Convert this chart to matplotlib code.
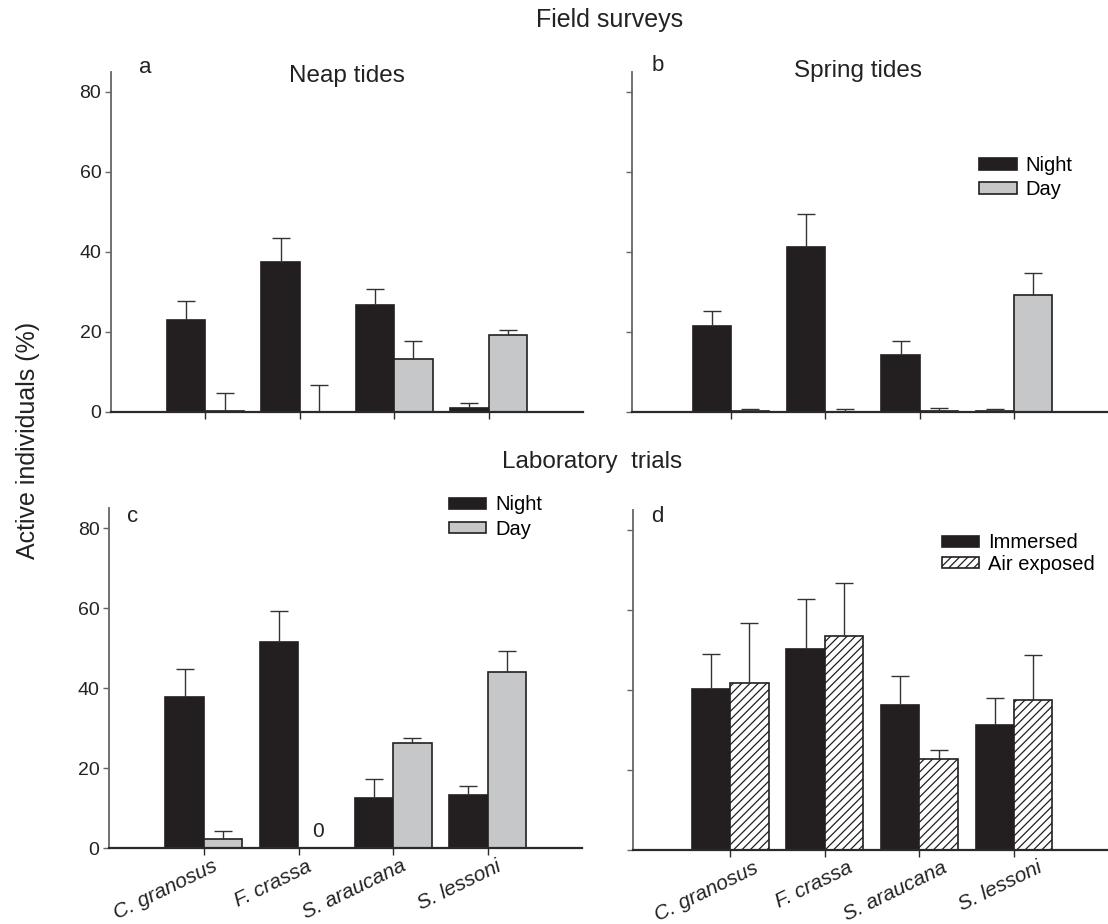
import numpy as np
import matplotlib
matplotlib.use("Agg")
import matplotlib.pyplot as plt
from matplotlib.transforms import ScaledTranslation

plt.rcParams['font.family'] = ['Liberation Sans', 'DejaVu Sans']
plt.rcParams['hatch.linewidth'] = 0.9

# ---------------- data ----------------
species = ["C. granosus", "F. crassa", "S. araucana", "S. lessoni"]
yticks = [0, 20, 40, 60, 80]

a_night = [22.9, 37.5, 26.7, 0.9]
a_night_err = [4.8, 6.0, 4.1, 1.2]
a_day = [0.2, 0.0, 13.2, 19.2]
a_day_err = [4.6, 6.7, 4.5, 1.2]

b_night = [21.4, 41.2, 14.3, 0.3]
b_night_err = [3.9, 8.2, 3.5, 0.4]
b_day = [0.3, 0.0, 0.3, 29.3]
b_day_err = [0.45, 0.8, 0.6, 5.4]

c_night = [37.9, 51.5, 12.6, 13.3]
c_night_err = [6.9, 7.7, 4.7, 2.3]
c_day = [2.4, 0.0, 26.2, 44.1]
c_day_err = [1.8, 0.0, 1.4, 5.3]

d_imm = [40.2, 50.2, 36.2, 31.3]
d_imm_err = [8.8, 12.6, 7.3, 6.8]
d_air = [41.7, 53.5, 22.7, 37.6]
d_air_err = [15.1, 13.3, 2.4, 11.2]

# ---------------- style ----------------
W, H = 1108, 924
DARK = '#231f20'
GREY = '#c6c7c9'
ERRC = '#333333'
BW = 0.406

fig = plt.figure(figsize=(W / 100, H / 100), dpi=100)


def rect(left, top, right, bottom):
    return [left / W, 1 - bottom / H, (right - left) / W, (bottom - top) / H]


def ftext(x, y, s, **kw):
    return fig.text(x / W, 1 - y / H, s, **kw)


def draw_panel(ax, v1, e1, v2, e2, style2, xlim):
    x = np.arange(len(species))
    b1 = ax.bar(x - BW / 2, v1, BW, color=DARK, edgecolor=DARK, linewidth=1.2, zorder=2)
    if style2 == 'grey':
        b2 = ax.bar(x + BW / 2, v2, BW, color=GREY, edgecolor=DARK, linewidth=1.2, zorder=2)
    else:
        b2 = ax.bar(x + BW / 2, v2, BW, color='white', edgecolor=DARK, linewidth=1.2,
                    hatch='////', zorder=2)
    for xs, vals, errs in ((x - BW / 2, v1, e1), (x + BW / 2, v2, e2)):
        vals = np.asarray(vals, float)
        errs = np.asarray(errs, float)
        m = errs > 0
        if m.any():
            eb = ax.errorbar(xs[m], vals[m], yerr=[np.zeros(m.sum()), errs[m]],
                             fmt='none', ecolor=ERRC, elinewidth=1.0, capsize=6.5,
                             capthick=1.0, zorder=3)
            caps = eb[1]
            if len(caps) == 2:
                caps[0].set_visible(False)
    ax.set_xlim(*xlim)
    ax.set_ylim(0, 85)
    ax.set_yticks(yticks)
    ax.set_xticks(x)
    for s in ('top', 'right'):
        ax.spines[s].set_visible(False)
    ax.spines['left'].set_color('#666666')
    ax.spines['left'].set_linewidth(1.3)
    ax.spines['bottom'].set_color('#2a2a2a')
    ax.spines['bottom'].set_linewidth(1.6)
    ax.tick_params(axis='y', direction='out', length=4, width=1.0, color='#666666',
                   labelsize=14, pad=3, labelcolor='#222222')
    ax.tick_params(axis='x', direction='out', length=5, width=1.0, color='#2a2a2a',
                   labelsize=15, pad=1, labelcolor='#222222')
    return b1, b2


ax_a = fig.add_axes(rect(111, 72, 583, 411.7))
ax_b = fig.add_axes(rect(632, 72, 1108.5, 411.7))
ax_c = fig.add_axes(rect(109.3, 508, 582.3, 848.3))
ax_d = fig.add_axes(rect(632.7, 510, 1108.5, 850))

draw_panel(ax_a, a_night, a_night_err, a_day, a_day_err, 'grey', (-1.0, 4.0))
bb1, bb2 = draw_panel(ax_b, b_night, b_night_err, b_day, b_day_err, 'grey', (-1.05, 4.0))
cb1, cb2 = draw_panel(ax_c, c_night, c_night_err, c_day, c_day_err, 'grey', (-1.0, 4.0))
db1, db2 = draw_panel(ax_d, d_imm, d_imm_err, d_air, d_air_err, 'hatch', (-1.03, 4.0))

for ax in (ax_a, ax_b):
    ax.set_xticklabels([])
for ax in (ax_b, ax_d):
    ax.set_yticklabels([])

for ax, dx in ((ax_c, 0.16), (ax_d, 0.31)):
    ax.set_xticks(np.arange(len(species)), labels=species)
    for lab in ax.get_xticklabels():
        lab.set_rotation(26)
        lab.set_ha('right')
        lab.set_style('italic')
        lab.set_transform(lab.get_transform() + ScaledTranslation(dx, 0, fig.dpi_scale_trans))

# zero annotation for F. crassa (day) in panel c
ax_c.text(1 + BW / 2, 4.1, "0", ha='center', va='center', fontsize=15, color='#222222')

# legends
leg_kw = dict(frameon=False, fontsize=14.5, handlelength=1.85, handleheight=0.5,
              handletextpad=0.45, borderpad=0, borderaxespad=0, labelspacing=0.25)
ax_b.legend([bb1, bb2], ["Night", "Day"], loc='upper left',
            bbox_to_anchor=(979.3 / W, 1 - 156 / H), bbox_transform=fig.transFigure, **leg_kw)
ax_c.legend([cb1, cb2], ["Night", "Day"], loc='upper left',
            bbox_to_anchor=(449 / W, 1 - 495.5 / H), bbox_transform=fig.transFigure, **leg_kw)
leg_kw_d = dict(leg_kw)
leg_kw_d['labelspacing'] = 0.1
ax_d.legend([db1, db2], ["Immersed", "Air exposed"], loc='upper left',
            bbox_to_anchor=(941.7 / W, 1 - 533.5 / H), bbox_transform=fig.transFigure, **leg_kw_d)

# titles and panel letters
ftext(347, 82, "Neap tides", ha='center', va='baseline', fontsize=17.5, color='#222222')
ftext(858, 77, "Spring tides", ha='center', va='baseline', fontsize=17.5, color='#222222')
ftext(139, 73, "a", ha='left', va='baseline', fontsize=16, color='#222222')
ftext(652, 71, "b", ha='left', va='baseline', fontsize=16, color='#222222')
ftext(126.7, 521.7, "c", ha='left', va='baseline', fontsize=16, color='#222222')
ftext(650.7, 522.3, "d", ha='left', va='baseline', fontsize=16, color='#222222')

ftext(610, 27, "Field surveys", ha='center', va='baseline', fontsize=18, color='#222222')
ftext(592, 468, "Laboratory  trials", ha='center', va='baseline', fontsize=17.5, color='#222222')
ftext(28, 440, "Active individuals (%)", ha='center', va='center', rotation=90,
      fontsize=18, color='#222222')

fig.savefig("out.png", dpi=100)
